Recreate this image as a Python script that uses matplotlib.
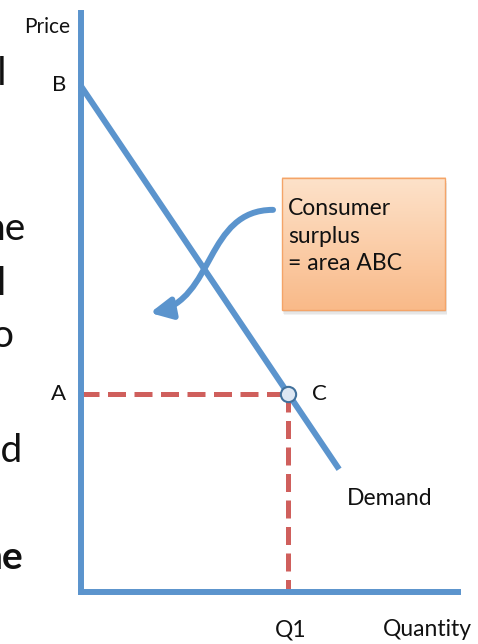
import matplotlib

matplotlib.use('Agg')
import matplotlib.pyplot as plt
import numpy as np
from matplotlib.colors import LinearSegmentedColormap
from matplotlib.patches import FancyArrowPatch, Rectangle
from matplotlib.path import Path

plt.rcParams['font.family'] = ['Lato', 'DejaVu Sans']

# demand curve end points (quantity, price)
demand_q = [0.0, 6.85]
demand_p = [8.75, 2.12]
q1 = 5.5
price_a = 3.42
price_b = 8.75

box_lines = ['Consumer', 'surplus', '= area ABC']

# clipped words of the slide paragraph at the left edge
side_words = ['al', 'he', 'l', 'o', 'ed', 'ne']
side_right = [7, 25, 5, 13, 23, 23]
side_base = [85, 240, 295, 347, 462, 569]
side_bold = [False, False, False, False, False, True]

BLUE = '#5b94cd'
RED = '#cf5f5c'
INK = '#111111'
W, H = 478, 644

fig = plt.figure(figsize=(W / 100, H / 100), dpi=100)
ax = fig.add_axes([80.5 / W, 52 / H, 377.5 / W, 579 / H])
ax.patch.set_visible(False)

for side in ('top', 'right'):
    ax.spines[side].set_visible(False)
for side in ('left', 'bottom'):
    ax.spines[side].set_color(BLUE)
    ax.spines[side].set_linewidth(4.3)
    ax.spines[side].set_capstyle('projecting')
    ax.spines[side].set_zorder(6)
ax.set_xticks([])
ax.set_yticks([])

# dashed guides to point C
ax.plot([0, q1], [price_a, price_a], color=RED, lw=3.6, dashes=(3.6, 1.7),
        dash_capstyle='butt', zorder=2)
ax.plot([q1, q1], [price_a, 0], color=RED, lw=3.6, dashes=(3.6, 1.7),
        dash_capstyle='butt', zorder=2)

ax.plot(demand_q, demand_p, color=BLUE, lw=4.3, solid_capstyle='butt',
        clip_on=False, zorder=3)
ax.plot([q1], [price_a], 'o', ms=11, mfc='#dde7f3', mec='#41719c', mew=1.5,
        zorder=5)

# callout box with soft shadow and orange gradient
bx0, bx1, by0, by1 = 5.34, 9.66, 4.87, 7.15
for k in range(3):
    off = 0.03 * (k + 1)
    ax.add_patch(Rectangle((bx0 + off * 0.6, by0 - off), bx1 - bx0, by1 - by0,
                           facecolor='#808080', edgecolor='none', alpha=0.10, zorder=6))
cmap = LinearSegmentedColormap.from_list('peach', ['#f9ba89', '#fde2ca'])
grad = np.linspace(0, 1, 100).reshape(-1, 1)
ax.imshow(grad, extent=[bx0, bx1, by0, by1], origin='lower', aspect='auto',
          cmap=cmap, zorder=7)
ax.add_patch(Rectangle((bx0, by0), bx1 - bx0, by1 - by0, facecolor='none',
                       edgecolor='#f4a468', lw=1.0, zorder=8))
for i, line in enumerate(box_lines):
    ax.text(5.50, 6.51 - 0.475 * i, line, fontsize=16.5, ha='left', va='baseline',
            color=INK, zorder=9)

# curved arrow from the callout
verts = [(5.10, 6.60), (3.30, 6.60), (3.56, 5.04), (1.84, 4.82)]
codes = [Path.MOVETO, Path.CURVE4, Path.CURVE4, Path.CURVE4]
arrow = FancyArrowPatch(path=Path(verts, codes),
                        arrowstyle='-|>,head_length=0.8,head_width=0.4',
                        mutation_scale=16, color=BLUE, lw=4.3, zorder=4)
ax.add_patch(arrow)

ax.set_xlim(0, 10)
ax.set_ylim(0, 10)

# labels
ax.text(-0.28, 9.65, 'Price', fontsize=15, ha='right', va='baseline',
        color=INK, clip_on=False)
ax.text(-0.57, price_b, 'B', fontsize=16, ha='center', va='center',
        color=INK, clip_on=False)
ax.text(-0.58, price_a, 'A', fontsize=16, ha='center', va='center',
        color=INK, clip_on=False)
ax.text(q1 + 0.63, price_a, 'C', fontsize=16, ha='left', va='center',
        color=INK, clip_on=False)
ax.text(7.06, 1.50, 'Demand', fontsize=16.5, ha='left', va='baseline',
        color=INK, clip_on=False)
ax.text(q1 + 0.08, -0.76, 'Q1', fontsize=16.5, ha='center', va='baseline',
        color=INK, clip_on=False)
ax.text(8.01, -0.76, 'Quantity', fontsize=16.5, ha='left', va='baseline',
        color=INK, clip_on=False)

for word, xr, yb, bold in zip(side_words, side_right, side_base, side_bold):
    fig.text(xr / W, 1 - yb / H, word, fontsize=28, ha='right', va='baseline',
             fontweight='bold' if bold else 'normal', color=INK)

fig.savefig('out.png', dpi=100)
plt.close(fig)
